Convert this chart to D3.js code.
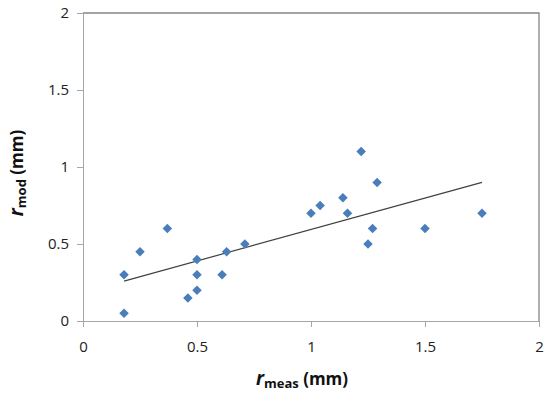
<!DOCTYPE html>
<html>
<head>
<meta charset="utf-8">
<script src="https://cdn.jsdelivr.net/npm/d3@7"></script>
<style>
  body { margin: 0; background: #fff; }
  text { font-family: "Open Sans", Lato, sans-serif; }
</style>
</head>
<body>
<svg id="chart" width="550" height="395"></svg>
<script>
// DATA
const rMeas = [0.18, 0.18, 0.25, 0.37, 0.46, 0.5, 0.5, 0.5, 0.61, 0.63, 0.71,
  1.0, 1.04, 1.14, 1.16, 1.22, 1.25, 1.27, 1.29, 1.5, 1.75];
const rMod = [0.3, 0.05, 0.45, 0.6, 0.15, 0.2, 0.3, 0.4, 0.3, 0.45, 0.5,
  0.7, 0.75, 0.8, 0.7, 1.1, 0.5, 0.6, 0.9, 0.6, 0.7];
const xTicks = [0, 0.5, 1, 1.5, 2];
const yTicks = [0, 0.5, 1, 1.5, 2];

// CANVAS SETUP
const svg = d3.select("#chart");
const margin = { top: 13, right: 11, bottom: 74, left: 83 },
  width = 550 - margin.left - margin.right,
  height = 395 - margin.top - margin.bottom;

const g = svg.append("g").attr("transform", `translate(${margin.left},${margin.top})`);

const x = d3.scaleLinear().domain([0, 2]).range([0, width]);
const y = d3.scaleLinear().domain([0, 2]).range([height, 0]);

// plot area border (top / right)
g.append("path")
  .attr("d", `M0,${y(2)}H${x(2)}V${y(0)}`)
  .attr("fill", "none")
  .attr("stroke", "#868686")
  .attr("stroke-width", 1.3);

// AXES
const xAxis = g.append("g")
  .attr("transform", `translate(0,${height})`)
  .call(d3.axisBottom(x).tickValues(xTicks).tickFormat(d3.format("")).tickSize(6).tickPadding(14));
const yAxis = g.append("g")
  .call(d3.axisLeft(y).tickValues(yTicks).tickFormat(d3.format("")).tickSize(6).tickPadding(8));

[xAxis, yAxis].forEach((a) => {
  a.select(".domain").attr("stroke", "#a6a6a6");
  a.selectAll(".tick line").attr("stroke", "#a6a6a6");
  a.selectAll(".tick text")
    .attr("fill", "#222")
    .style("font-size", "15px")
    .style("font-family", "'Open Sans', sans-serif");
});

// TREND LINE (least squares fit of the points)
const data = rMeas.map((v, i) => ({ x: v, y: rMod[i] }));
const mx = d3.mean(data, (d) => d.x), my = d3.mean(data, (d) => d.y);
const slope = d3.sum(data, (d) => (d.x - mx) * (d.y - my)) / d3.sum(data, (d) => (d.x - mx) ** 2);
const icpt = my - slope * mx;
const [x0, x1] = d3.extent(rMeas);
g.append("line")
  .attr("x1", x(x0)).attr("y1", y(icpt + slope * x0))
  .attr("x2", x(x1)).attr("y2", y(icpt + slope * x1))
  .attr("stroke", "#404040")
  .attr("stroke-width", 1.2);

// POINTS
const diamond = d3.symbol().type(d3.symbolDiamond2).size(58);
g.selectAll("path.pt")
  .data(data)
  .join("path")
  .attr("class", "pt")
  .attr("d", diamond)
  .attr("transform", (d) => `translate(${x(d.x)},${y(d.y)})`)
  .attr("fill", "#4a7ebb");

// AXIS TITLES
const xt = svg.append("text")
  .attr("x", 302)
  .attr("y", 385)
  .attr("text-anchor", "middle")
  .style("font-weight", "bold")
  .style("font-size", "17px")
  .attr("fill", "#111");
xt.append("tspan").text("r").style("font-style", "italic").style("font-size", "19px");
xt.append("tspan").text("meas").style("font-size", "13px").attr("dy", 3);
xt.append("tspan").text(" (mm)").attr("dy", -3);

const yt = svg.append("text")
  .attr("transform", `translate(23,173) rotate(-90)`)
  .attr("text-anchor", "middle")
  .style("font-weight", "bold")
  .style("font-size", "17px")
  .attr("fill", "#111");
yt.append("tspan").text("r").style("font-style", "italic").style("font-size", "19px");
yt.append("tspan").text("mod").style("font-size", "13px").attr("dy", 3);
yt.append("tspan").text(" (mm)").attr("dy", -3);
</script>
</body>
</html>
